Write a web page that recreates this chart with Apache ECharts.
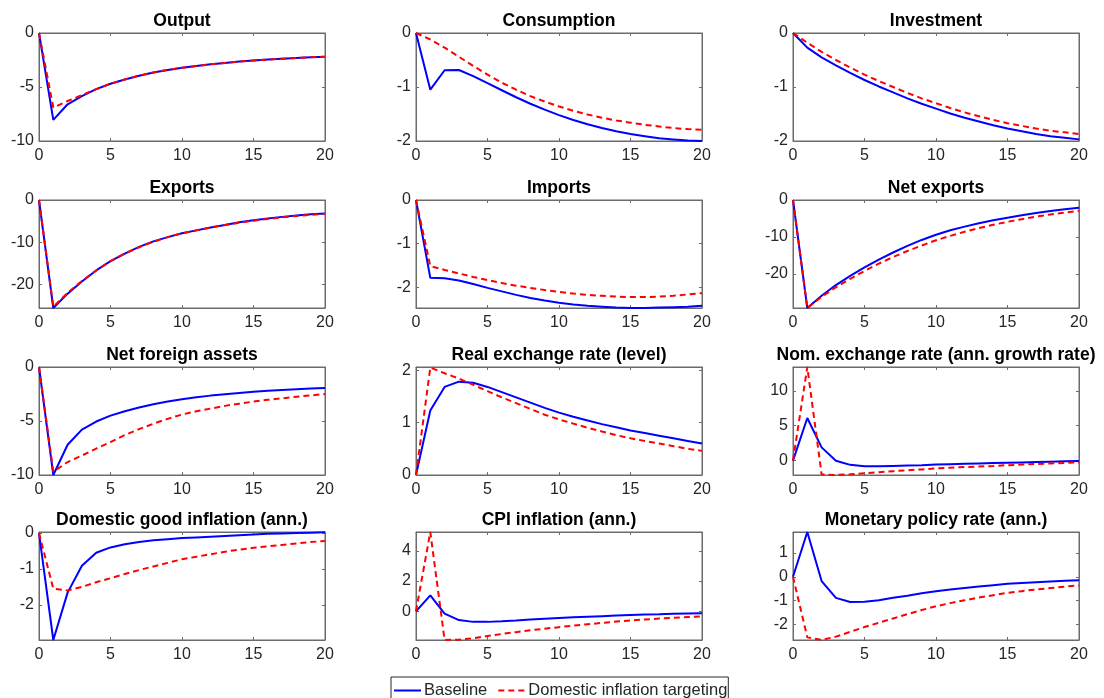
<!DOCTYPE html>
<html>
<head>
<meta charset="utf-8">
<script src="https://cdn.jsdelivr.net/npm/echarts@6/dist/echarts.min.js"></script>
<style>html,body{margin:0;padding:0;background:#fff}#c{width:1104px;height:698px}</style>
</head>
<body>
<div id="c"></div>
<script>
const periods = [0,1,2,3,4,5,6,7,8,9,10,11,12,13,14,15,16,17,18,19,20];
const xTicks = [0,5,10,15,20];
const titles = ["Output","Consumption","Investment","Exports","Imports","Net exports","Net foreign assets","Real exchange rate (level)","Nom. exchange rate (ann. growth rate)","Domestic good inflation (ann.)","CPI inflation (ann.)","Monetary policy rate (ann.)"];
const seriesNames = ["Baseline","Domestic inflation targeting"];

const outputBase = [0,-8.05,-6.6,-5.85,-5.2,-4.7,-4.3,-3.95,-3.65,-3.42,-3.22,-3.05,-2.9,-2.77,-2.65,-2.55,-2.46,-2.38,-2.31,-2.25,-2.2];
const outputDit  = [0,-6.9,-6.3,-5.75,-5.2,-4.7,-4.3,-3.95,-3.65,-3.42,-3.22,-3.05,-2.9,-2.77,-2.65,-2.55,-2.46,-2.38,-2.31,-2.25,-2.2];
const consBase = [0,-1.05,-0.69,-0.685,-0.8,-0.93,-1.06,-1.19,-1.31,-1.42,-1.52,-1.61,-1.69,-1.76,-1.82,-1.87,-1.91,-1.95,-1.97,-1.99,-2.0];
const consDit  = [0,-0.12,-0.27,-0.44,-0.61,-0.77,-0.92,-1.05,-1.17,-1.27,-1.36,-1.44,-1.51,-1.57,-1.62,-1.66,-1.7,-1.73,-1.76,-1.78,-1.79];
const invBase = [0,-0.27,-0.45,-0.6,-0.74,-0.87,-0.99,-1.1,-1.21,-1.31,-1.4,-1.49,-1.57,-1.64,-1.71,-1.77,-1.82,-1.87,-1.91,-1.94,-1.97];
const invDit  = [0,-0.18,-0.35,-0.5,-0.64,-0.77,-0.89,-1.0,-1.11,-1.21,-1.3,-1.39,-1.47,-1.54,-1.61,-1.67,-1.72,-1.77,-1.81,-1.84,-1.87];
const expBase = [0,-25.6,-22.2,-19.3,-16.7,-14.5,-12.7,-11.1,-9.8,-8.8,-7.9,-7.2,-6.5,-5.9,-5.3,-4.8,-4.4,-4.0,-3.7,-3.4,-3.2];
const expDit  = [0,-25.3,-22.0,-19.2,-16.7,-14.5,-12.7,-11.2,-9.9,-8.8,-7.9,-7.2,-6.5,-5.9,-5.4,-4.9,-4.5,-4.1,-3.8,-3.5,-3.3];
const impBase = [0,-1.78,-1.79,-1.84,-1.92,-2.01,-2.09,-2.17,-2.24,-2.3,-2.35,-2.39,-2.42,-2.44,-2.46,-2.47,-2.47,-2.46,-2.45,-2.44,-2.42];
const impDit  = [0,-1.51,-1.6,-1.68,-1.76,-1.83,-1.9,-1.96,-2.01,-2.06,-2.1,-2.14,-2.17,-2.19,-2.21,-2.22,-2.22,-2.21,-2.19,-2.16,-2.13];
const nxBase = [0,-29.2,-25.9,-23.0,-20.5,-18.2,-16.1,-14.2,-12.4,-10.8,-9.4,-8.2,-7.2,-6.3,-5.5,-4.8,-4.1,-3.5,-3.0,-2.5,-2.1];
const nxDit  = [0,-29.2,-26.2,-23.6,-21.3,-19.2,-17.2,-15.4,-13.8,-12.3,-10.9,-9.7,-8.6,-7.6,-6.7,-5.9,-5.2,-4.5,-3.9,-3.4,-2.9];
const nfaBase = [0,-10,-7.2,-5.8,-5.05,-4.5,-4.1,-3.75,-3.45,-3.2,-2.98,-2.8,-2.65,-2.52,-2.4,-2.3,-2.2,-2.12,-2.05,-2.0,-1.95];
const nfaDit  = [0,-9.7,-8.8,-8.2,-7.55,-6.95,-6.3,-5.75,-5.25,-4.8,-4.4,-4.1,-3.85,-3.6,-3.4,-3.2,-3.04,-2.9,-2.76,-2.63,-2.5];
const rerBase = [0,1.23,1.68,1.78,1.76,1.68,1.58,1.48,1.38,1.28,1.19,1.11,1.04,0.97,0.91,0.85,0.8,0.75,0.7,0.65,0.6];
const rerDit  = [0,2.05,1.94,1.84,1.72,1.6,1.48,1.37,1.26,1.15,1.06,0.98,0.9,0.83,0.76,0.7,0.65,0.6,0.55,0.5,0.46];
const nerBase = [0,6.1,1.9,0.0,-0.6,-0.8,-0.8,-0.75,-0.7,-0.65,-0.55,-0.5,-0.45,-0.4,-0.35,-0.3,-0.25,-0.2,-0.15,-0.1,-0.05];
const nerDit  = [0,13.4,-1.95,-2.05,-1.95,-1.8,-1.65,-1.5,-1.38,-1.25,-1.1,-1.0,-0.92,-0.84,-0.75,-0.65,-0.56,-0.48,-0.4,-0.33,-0.25];
const dgiBase = [0,-2.98,-1.66,-0.91,-0.55,-0.4,-0.31,-0.25,-0.2,-0.17,-0.14,-0.12,-0.1,-0.08,-0.06,-0.04,-0.02,-0.01,0.0,0.01,0.02];
const dgiDit  = [0,-1.55,-1.6,-1.5,-1.37,-1.26,-1.14,-1.03,-0.93,-0.83,-0.73,-0.66,-0.59,-0.52,-0.46,-0.41,-0.37,-0.33,-0.29,-0.25,-0.22];
const cpiBase = [0,1.05,-0.15,-0.58,-0.7,-0.7,-0.66,-0.61,-0.55,-0.49,-0.44,-0.4,-0.36,-0.32,-0.28,-0.24,-0.22,-0.2,-0.17,-0.15,-0.13];
const cpiDit  = [0,5.25,-1.9,-1.88,-1.78,-1.64,-1.5,-1.38,-1.26,-1.15,-1.05,-0.95,-0.86,-0.77,-0.68,-0.6,-0.54,-0.48,-0.43,-0.38,-0.33];
const mprBase = [0,1.87,-0.18,-0.88,-1.05,-1.04,-0.98,-0.88,-0.79,-0.69,-0.6,-0.53,-0.47,-0.41,-0.35,-0.29,-0.26,-0.23,-0.2,-0.17,-0.14];
const mprDit  = [0,-2.53,-2.64,-2.5,-2.3,-2.1,-1.92,-1.74,-1.56,-1.39,-1.23,-1.1,-0.98,-0.87,-0.77,-0.67,-0.6,-0.53,-0.47,-0.41,-0.36];

const yTicks = [[-10,-5,0],[-2,-1,0],[-2,-1,0],[-20,-10,0],[-2,-1,0],[-20,-10,0],[-10,-5,0],[0,1,2],[0,5,10],[-2,-1,0],[0,2,4],[-2,-1,0,1]];
const yMins = [-10,-2,-2,-25.6,-2.47,-29.2,-10,0,-2.05,-2.98,-1.9,-2.64];
const yMaxs = [0,0,0,0,0,0,0,2.06,13.4,0.03,5.25,1.87];

const baseSets = [outputBase,consBase,invBase,expBase,impBase,nxBase,nfaBase,rerBase,nerBase,dgiBase,cpiBase,mprBase];
const ditSets  = [outputDit,consDit,invDit,expDit,impDit,nxDit,nfaDit,rerDit,nerDit,dgiDit,cpiDit,mprDit];

const colLefts = [39,416,793];
const colWidth = 286;
const rowTops = [33,200,367,532];
const rowHeight = 108;
const axisColor = '#6b6b6b';
const labelColor = '#262626';
const FONT = 'Liberation Sans, Arial, sans-serif';

const grid = [], xAxis = [], yAxis = [], series = [], title = [];
for (let i = 0; i < 12; i++) {
  const r = Math.floor(i/3), c = i%3;
  grid.push({left: colLefts[c], top: rowTops[r], width: colWidth, height: rowHeight, show: true, borderColor: axisColor, borderWidth: 1, backgroundColor: '#fff'});
  title.push({text: titles[i], left: colLefts[c] + colWidth/2, top: rowTops[r] - 21, textAlign: 'center', padding: 0,
    textStyle: {fontFamily: FONT, fontSize: 17.5, fontWeight: 'bold', color: '#000'}});
  const xb = {type: 'value', gridIndex: i, min: 0, max: 20, interval: 5,
    axisLine: {show: true, onZero: false, lineStyle: {color: axisColor}}, splitLine: {show: false}};
  xAxis.push(Object.assign({}, xb, {position: 'bottom',
    axisTick: {show: true, inside: true, length: 3, lineStyle: {color: axisColor}},
    axisLabel: {show: true, color: labelColor, fontSize: 16, fontFamily: FONT, margin: 7, customValues: xTicks}}));
  xAxis.push(Object.assign({}, xb, {position: 'top',
    axisTick: {show: true, inside: true, length: 3, lineStyle: {color: axisColor}},
    axisLabel: {show: false}}));
  const yb = {type: 'value', gridIndex: i, min: yMins[i], max: yMaxs[i],
    axisLine: {show: true, onZero: false, lineStyle: {color: axisColor}}, splitLine: {show: false}};
  yAxis.push(Object.assign({}, yb, {position: 'left',
    axisTick: {show: true, inside: true, length: 3, customValues: yTicks[i], lineStyle: {color: axisColor}},
    axisLabel: {show: true, color: labelColor, fontSize: 16, fontFamily: FONT, margin: 5, customValues: yTicks[i]}}));
  yAxis.push(Object.assign({}, yb, {position: 'right',
    axisTick: {show: true, inside: true, length: 3, customValues: yTicks[i], lineStyle: {color: axisColor}},
    axisLabel: {show: false}}));
  series.push({name: seriesNames[0], type: 'line', xAxisIndex: 2*i, yAxisIndex: 2*i, symbol: 'none', animation: false,
    data: periods.map((p, k) => [p, baseSets[i][k]]), lineStyle: {color: '#0000ff', width: 2}, itemStyle: {color: '#0000ff'}, z: 2});
  series.push({name: seriesNames[1], type: 'line', xAxisIndex: 2*i, yAxisIndex: 2*i, symbol: 'none', animation: false,
    data: periods.map((p, k) => [p, ditSets[i][k]]), lineStyle: {color: '#ff0000', width: 2, type: [6,4]}, itemStyle: {color: '#ff0000'}, z: 3});
}

const chart = echarts.init(document.getElementById('c'), null, {renderer: 'canvas'});
chart.setOption({
  animation: false,
  backgroundColor: '#fff',
  title: title,
  grid: grid,
  xAxis: xAxis,
  yAxis: yAxis,
  series: series,
  legend: {data: seriesNames, left: 391, top: 677, orient: 'horizontal',
    itemWidth: 27, itemHeight: 14, itemGap: 10, padding: [5, 1, 5, 2],
    itemStyle: {opacity: 0},
    borderColor: '#262626', borderWidth: 1, backgroundColor: '#fff',
    textStyle: {fontFamily: FONT, fontSize: 16.5, color: labelColor, padding: [0,0,0,-2]}}
});
</script>
</body>
</html>
